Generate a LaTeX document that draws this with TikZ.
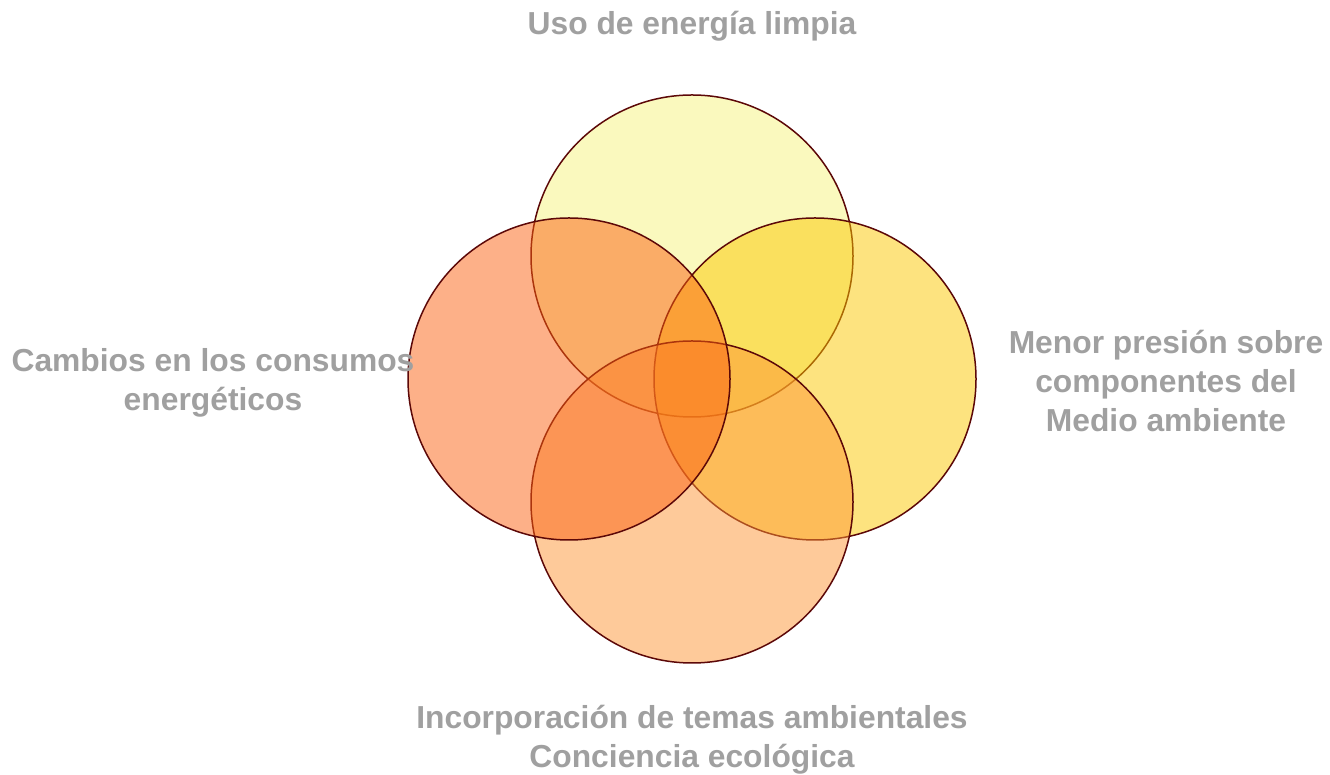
\documentclass[tikz,border=0pt]{standalone}
\usepackage{fontspec}
\setmainfont{Liberation Sans}
\usepackage{xcolor}

\definecolor{rimred}{RGB}{92,8,8}
\definecolor{labelgray}{RGB}{160,160,160}
\definecolor{usofill}{RGB}{245,243,125}
\definecolor{menorfill}{RGB}{251,200,0}
\definecolor{incofill}{RGB}{253,149,53}
\definecolor{cambiofill}{RGB}{251,97,17}

\begin{document}
\begin{tikzpicture}[x=1pt, y=1pt,
    petal/.style = {shape=circle, draw=rimred, line width=1.5pt,
      minimum size=322pt, inner sep=0pt, fill opacity=0.5, draw opacity=1},
    tag/.style = {align=center, text=labelgray, inner sep=0pt,
      font=\bfseries\fontsize{31.8}{39}\selectfont}]
    \useasboundingbox (0,0) rectangle (1330,775);
    % the four circles
    \node[petal, fill=usofill]    (uso)    at (692,519) {};
    \node[petal, fill=menorfill]  (menor)  at (815,396) {};
    \node[petal, fill=incofill]   (inco)   at (692,273) {};
    \node[petal, fill=cambiofill] (cambio) at (569,396) {};
    % labels
    \node[tag] (usotag)    at (692,749)  {Uso de energía limpia};
    \node[tag] (menortag)  at (1166,394) {Menor presión sobre\\componentes del\\Medio ambiente};
    \node[tag] (cambiotag) at (213,392)  {Cambios en los consumos\\energéticos};
    \node[tag] (incotag)   at (692,35)   {Incorporación de temas ambientales\\Conciencia ecológica};
  \end{tikzpicture}
\end{document}
